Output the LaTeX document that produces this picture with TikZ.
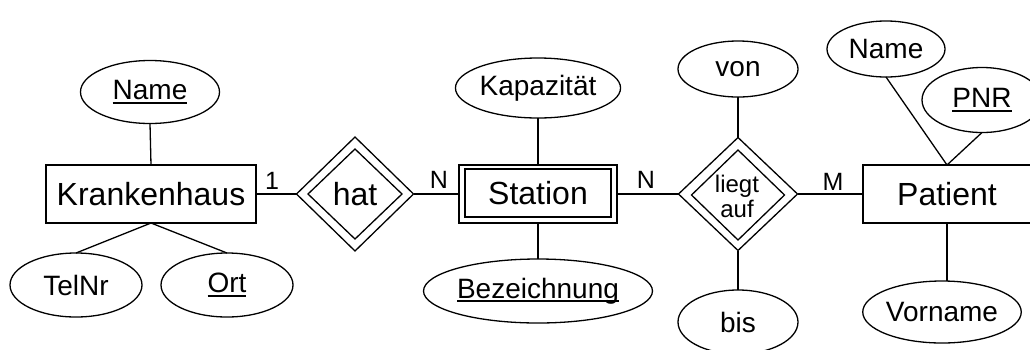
\documentclass[tikz,border=0pt]{standalone}
\usepackage{fontspec}
\setmainfont{Liberation Sans}
\usetikzlibrary{shapes.geometric}
\newcommand\keyul[1]{\setbox0\hbox{#1}\leavevmode\rlap{\rule[-4.2pt]{\wd0}{2.2pt}}\box0}
\begin{document}
\begin{tikzpicture}[x=1pt,y=-1pt,line width=1.3pt,
  every node/.style={inner sep=0pt,outer sep=0pt},
  ent/.style={draw,rectangle,minimum height=58pt,font=\fontsize{32}{38}\selectfont},
  entin/.style={draw,rectangle,minimum width=146pt,minimum height=48pt,font=\fontsize{32}{38}\selectfont},
  attr/.style={draw,ellipse,font=\fontsize{28}{34}\selectfont},
  rel/.style={draw,diamond,minimum width=117pt,minimum height=114pt},
  relin/.style={draw,diamond,minimum width=94pt,minimum height=90pt},
  reltext/.style={font=\fontsize{32}{38}\selectfont},
  reltextsmall/.style={font=\fontsize{24}{25}\selectfont,align=center},
  card/.style={font=\fontsize{25}{29}\selectfont}]
\useasboundingbox (0,0) rectangle (1030,349);
\clip (0,0) rectangle (1030,349);

% Krankenhaus
\node[ent,minimum width=210pt] (kh) at (151,194) {Krankenhaus};
\node[attr,minimum width=139pt,minimum height=63pt] (khname) at (150,92) {\keyul{Name}};
\node[attr,minimum width=132pt,minimum height=64pt] (telnr) at (76,285) {TelNr};
\node[attr,minimum width=132pt,minimum height=64pt] (ort) at (227,285) {\keyul{Ort}};

% hat
\node[rel] (hat) at (355,194) {};
\node[relin] (hatin) at (355,194) {};
\node[reltext] (hattext) at (355,194) {hat};

% Station
\node[ent,minimum width=158pt] (st) at (538,194) {};
\node[entin] (stin) at (538,193) {Station};
\node[attr,minimum width=158pt,minimum height=60pt] (kap) at (538,88) {Kapazität};
\node[attr,minimum width=210pt,minimum height=64pt] (bez) at (538,291) {\keyul{Bezeichnung}};

% liegt auf
\node[rel,minimum width=119pt,minimum height=113pt] (la) at (738,194) {};
\node[relin,minimum width=93pt,minimum height=90pt] (lain) at (738,195) {};
\node[reltextsmall] (latext) at (737,196) {liegt\\auf};
\node[attr,minimum width=120pt,minimum height=56pt] (von) at (738,69) {von};
\node[attr,minimum width=120pt,minimum height=64pt] (bis) at (738,322) {bis};

% Patient
\node[ent,minimum width=168pt] (pat) at (947,194) {Patient};
\node[attr,minimum width=118pt,minimum height=56pt] (pname) at (886,49) {Name};
\node[attr,minimum width=120pt,minimum height=65pt] (pnr) at (982,100) {\keyul{PNR}};
\node[attr,minimum width=130pt,minimum height=62pt] (vor) at (942,312) {Vorname};

% cardinalities
\node[card] (c1) at (272,181) {1};
\node[card] (c2) at (439,180) {N};
\node[card] (c3) at (646,180) {N};
\node[card] (c4) at (833,182) {M};

% connectors
\draw (khname.south) -- (kh.north);
\draw (kh.south) -- (telnr.north);
\draw (kh.south) -- (ort.north);
\draw (kh.east) -- (hat.west);
\draw (hat.east) -- (st.west);
\draw (kap.south) -- (st.north);
\draw (st.south) -- (bez.north);
\draw (st.east) -- (la.west);
\draw (von.south) -- (la.north);
\draw (la.south) -- (bis.north);
\draw (la.east) -- (pat.west);
\draw (pname.south) -- (pat.north);
\draw (pnr.south) -- (pat.north);
\draw (pat.south) -- (pat.south |- vor.north);
\end{tikzpicture}
\end{document}
